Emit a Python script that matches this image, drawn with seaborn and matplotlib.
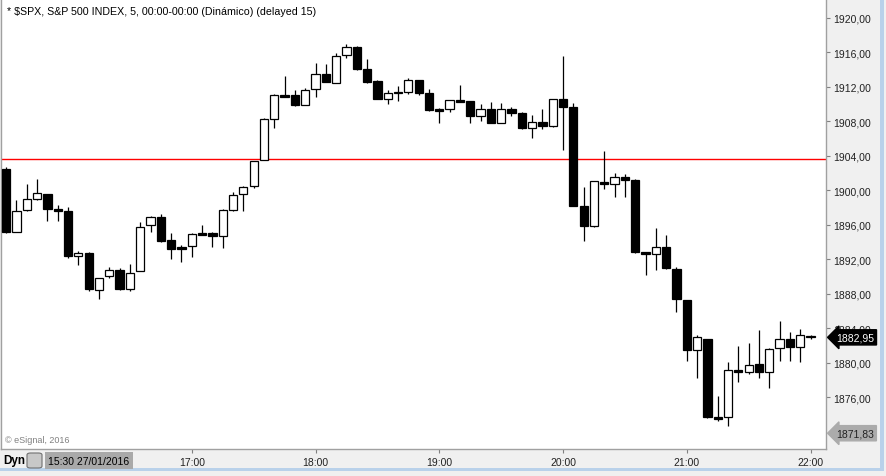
import matplotlib
matplotlib.use("Agg")
import matplotlib.pyplot as plt
import matplotlib.transforms as mtransforms
from matplotlib.patches import Rectangle, FancyBboxPatch
import seaborn as sns
import pandas as pd

# S&P 500, velas de 5 minutos, 27/01/2016
times = pd.date_range("2016-01-27 15:30", periods=79, freq="5min").strftime("%H:%M").tolist()

opens = [1902.48, 1895.21, 1897.76, 1898.97, 1899.58, 1897.81, 1897.61, 1892.35, 1892.70, 1888.48,
         1890.03, 1890.73, 1888.60, 1890.68, 1895.95, 1896.88, 1894.25, 1893.43, 1893.59, 1895.06,
         1895.10, 1894.74, 1897.76, 1899.55, 1900.48, 1903.56, 1908.32, 1911.03, 1911.07, 1909.94,
         1911.73, 1913.50, 1912.49, 1915.67, 1916.64, 1914.05, 1912.66, 1910.57, 1911.45, 1911.38,
         1912.77, 1911.30, 1909.48, 1909.41, 1910.52, 1910.37, 1908.67, 1909.41, 1907.85, 1909.41,
         1908.98, 1907.27, 1907.94, 1907.51, 1910.57, 1909.64, 1898.19, 1895.90, 1900.97, 1900.78,
         1901.59, 1901.21, 1892.85, 1892.59, 1893.43, 1890.92, 1887.29, 1881.52, 1882.76, 1873.75,
         1873.75, 1879.20, 1878.97, 1879.86, 1878.97, 1881.68, 1882.73, 1881.80, 1883.14]
highs = [1902.71, 1898.89, 1900.74, 1901.32, 1899.60, 1898.31, 1898.04, 1892.93, 1892.82, 1889.80,
         1891.11, 1891.00, 1891.46, 1896.30, 1897.06, 1897.26, 1895.06, 1893.67, 1895.00, 1895.99,
         1895.21, 1897.84, 1899.81, 1900.55, 1903.40, 1908.40, 1911.22, 1913.31, 1911.68, 1911.84,
         1914.78, 1914.66, 1915.90, 1916.98, 1916.79, 1915.24, 1912.77, 1911.68, 1912.11, 1913.04,
         1912.80, 1911.76, 1909.50, 1910.50, 1912.23, 1910.40, 1910.02, 1910.22, 1910.14, 1909.68,
         1909.09, 1908.75, 1909.44, 1910.60, 1915.63, 1910.14, 1900.43, 1901.10, 1904.61, 1902.02,
         1901.87, 1901.32, 1892.90, 1895.64, 1894.83, 1891.11, 1887.30, 1883.22, 1882.80, 1876.18,
         1880.13, 1881.98, 1882.30, 1883.81, 1881.72, 1884.85, 1883.57, 1883.92, 1883.20]
lows = [1895.06, 1895.14, 1897.65, 1898.85, 1896.48, 1896.48, 1892.12, 1891.38, 1888.29, 1887.40,
        1889.87, 1888.50, 1888.29, 1890.60, 1895.14, 1894.05, 1892.04, 1891.73, 1892.31, 1894.85,
        1893.47, 1893.35, 1897.58, 1897.65, 1900.31, 1903.50, 1907.24, 1910.80, 1909.83, 1909.90,
        1910.87, 1912.60, 1912.40, 1915.39, 1914.00, 1912.42, 1910.60, 1910.06, 1910.41, 1911.18,
        1911.10, 1909.25, 1907.85, 1909.13, 1910.25, 1907.85, 1908.09, 1907.80, 1907.78, 1908.63,
        1907.16, 1906.11, 1907.16, 1907.32, 1904.72, 1898.20, 1894.13, 1895.79, 1900.16, 1899.27,
        1899.27, 1892.77, 1890.19, 1890.80, 1890.88, 1885.93, 1880.24, 1878.24, 1873.60, 1873.28,
        1872.70, 1877.81, 1878.70, 1878.27, 1877.11, 1880.24, 1880.24, 1880.13, 1882.80]
closes = [1895.21, 1897.58, 1898.97, 1899.66, 1897.88, 1897.58, 1892.42, 1892.70, 1888.60, 1889.80,
          1890.73, 1888.60, 1890.38, 1895.72, 1896.88, 1894.16, 1893.20, 1893.20, 1894.91, 1894.88,
          1894.74, 1897.69, 1899.47, 1900.36, 1903.38, 1908.28, 1911.07, 1910.84, 1909.94, 1911.61,
          1913.47, 1912.61, 1915.56, 1916.64, 1914.12, 1912.61, 1910.64, 1911.26, 1911.26, 1912.77,
          1911.33, 1909.36, 1909.25, 1910.45, 1910.29, 1908.67, 1909.41, 1907.85, 1909.41, 1909.01,
          1907.27, 1907.90, 1907.51, 1910.60, 1909.71, 1898.22, 1895.90, 1901.06, 1900.74, 1901.52,
          1901.24, 1892.89, 1892.59, 1893.40, 1891.00, 1887.44, 1881.52, 1882.96, 1873.75, 1873.48,
          1879.16, 1878.97, 1879.71, 1878.97, 1881.60, 1882.73, 1881.80, 1883.23, 1882.95]

prev_close = 1903.63
last_price = 1882.95
low_label = 1871.83

x_tick_labels = ["17:00", "18:00", "19:00", "20:00", "21:00", "22:00"]
y_ticks = [1876, 1880, 1884, 1888, 1892, 1896, 1900, 1904, 1908, 1912, 1916, 1920]
y_tick_labels = ["1876,00", "1880,00", "1884,00", "1888,00", "1892,00", "1896,00",
                 "1900,00", "1904,00", "1908,00", "1912,00", "1916,00", "1920,00"]

df = pd.DataFrame({"time": times, "open": opens, "high": highs, "low": lows, "close": closes})
df["pos"] = range(len(df))
df["up"] = df["close"] >= df["open"]

sns.set_theme(style="white")
plt.rcParams["font.family"] = ["Liberation Sans", "DejaVu Sans"]

W, H = 886, 477
fig = plt.figure(figsize=(W / 100, H / 100), dpi=100, facecolor="#f0f0f0")


def box(x, y, w, h):
    # pixel box (desde arriba-izquierda) -> fraccion de figura
    return [x / W, 1 - (y + h) / H, w / W, h / H]


ax = fig.add_axes(box(1, 0, 825, 450))
ax.set_facecolor("white")

# mechas
ax.vlines(df["pos"], df["low"], df["high"], color="black", lw=0.9, zorder=2)
# cuerpos
body = (df["close"] - df["open"]).abs()
bottom = df[["open", "close"]].min(axis=1)
ax.bar(df["pos"], body, bottom=bottom, width=0.8,
       color=["white" if u else "black" for u in df["up"]],
       edgecolor="black", linewidth=0.9, zorder=3)

ax.axhline(prev_close, color="red", lw=1.0, zorder=1)

# una posicion libre a la derecha de la ultima vela
ax.set_xlim(-0.5, len(df) + 0.5)
ax.set_ylim(1870.0, 1922.2)

ax.yaxis.tick_right()
ax.set_yticks(y_ticks)
ax.set_yticklabels(y_tick_labels)
ax.set_xticks([times.index(t) for t in x_tick_labels])
ax.set_xticklabels(x_tick_labels)
ax.tick_params(axis="both", which="both", direction="out", length=3, width=0.8,
               color="#808080", labelsize=7.5, labelcolor="#222222", pad=2)
ax.tick_params(axis="x", pad=3)
ax.tick_params(axis="y", right=True, left=False)
ax.tick_params(axis="x", bottom=True)

for side in ["left", "right", "bottom"]:
    ax.spines[side].set_color("#a0a0a0")
    ax.spines[side].set_linewidth(1.0)
ax.spines["top"].set_visible(False)

ax.text(0.007, 0.985, "* \\$SPX, S&P 500 INDEX, 5, 00:00-00:00 (Dinámico) (delayed 15)",
        transform=ax.transAxes, ha="left", va="top", fontsize=7.7, color="black")
ax.text(0.005, 0.012, "© eSignal, 2016", transform=ax.transAxes, ha="left", va="bottom",
        fontsize=6.5, color="#808080")

# etiquetas de precio en el eje
trans = mtransforms.blended_transform_factory(ax.transAxes, ax.transData)
ax.text(1.012, last_price, "1882,95", transform=trans, ha="left", va="center",
        fontsize=7.5, color="white", clip_on=False, zorder=5,
        bbox=dict(boxstyle="larrow,pad=0.25", fc="black", ec="black"))
ax.text(1.012, low_label, "1871,83", transform=trans, ha="left", va="center",
        fontsize=7.5, color="#222222", clip_on=False, zorder=5,
        bbox=dict(boxstyle="larrow,pad=0.25", fc="#ababab", ec="#ababab"))

# barra inferior y marco
fig.patches.append(Rectangle((box(0, 469, 884, 3)[0], box(0, 469, 884, 3)[1]),
                             884 / W, 3 / H, transform=fig.transFigure,
                             fc="#b9d1ea", ec="none", zorder=0))
fig.patches.append(Rectangle((box(880, 0, 4, 472)[0], box(880, 0, 4, 472)[1]),
                             4 / W, 472 / H, transform=fig.transFigure,
                             fc="#b9d1ea", ec="none", zorder=0))
fig.patches.append(Rectangle((box(45, 453, 88, 17)[0], box(45, 453, 88, 17)[1]),
                             88 / W, 17 / H, transform=fig.transFigure,
                             fc="#a9a9a9", ec="none", zorder=1))
lock = FancyBboxPatch((box(27, 454, 15, 15)[0], box(27, 454, 15, 15)[1]), 15 / W, 15 / H,
                      boxstyle="round,pad=0,rounding_size=0.004", transform=fig.transFigure,
                      fc="#c8c8c8", ec="#707070", lw=0.8, zorder=1)
fig.patches.append(lock)
fig.text(3 / W, 1 - 461 / H, "Dyn", ha="left", va="center", fontsize=8.5,
         fontweight="bold", color="black")
fig.text(89 / W, 1 - 462 / H, "15:30 27/01/2016", ha="center", va="center",
         fontsize=7.5, color="black")

fig.savefig("out.png", dpi=100, facecolor=fig.get_facecolor())
